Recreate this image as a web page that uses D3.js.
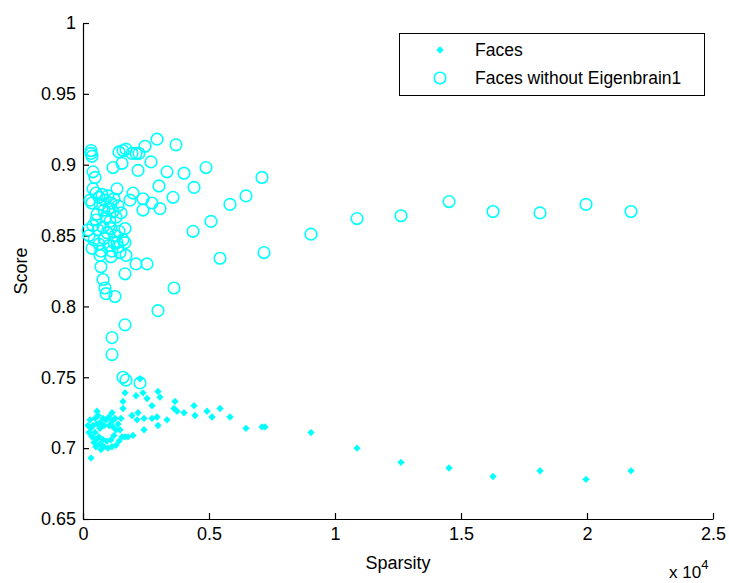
<!DOCTYPE html>
<html>
<head>
<meta charset="utf-8">
<script src="https://cdn.jsdelivr.net/npm/d3@7"></script>
<style>
  html, body { margin: 0; padding: 0; background: #fff; }
  svg { display: block; }
  text { font-family: "Liberation Sans", Arial, sans-serif; fill: #000; }
</style>
</head>
<body>
<svg id="chart" width="729" height="583"></svg>
<script>
// ---- Data (sparsity in raw units; axis shown x 10^4) ----
const seriesNames = ["Faces", "Faces without Eigenbrain1"];

const facesX = [
  317, 556, 1151, 1667, 1587, 2103, 2262, 2381, 2540, 2738, 2976, 3056,
  1587, 1944, 2183, 2143, 2421, 2738, 2937, 2976, 3333, 3651, 3611, 3730,
  4008, 4405, 4444, 4921, 5119, 5437, 5833, 6468, 7103, 7222, 2421, 1984,
  1786, 1667,
  278, 397, 476, 595, 675, 794, 913, 1032, 1151, 1270, 1389, 1468, 1548,
  1429, 1310, 1151, 992, 833, 675, 516, 357, 238, 317, 476, 635, 794, 952,
  1111, 1230, 1310, 1190, 1032, 833, 675, 516, 714, 437, 198, 556, 1508,
  9048, 10873, 12619, 14524, 16270, 18135, 19960, 21746
];
const facesY = [
  0.693, 0.726, 0.725, 0.739, 0.733, 0.737, 0.749, 0.739, 0.735, 0.730, 0.740, 0.736,
  0.728, 0.723, 0.725, 0.720, 0.721, 0.721, 0.722, 0.716, 0.720, 0.733, 0.728, 0.726,
  0.725, 0.730, 0.723, 0.726, 0.722, 0.728, 0.722, 0.714, 0.715, 0.715, 0.713, 0.709,
  0.708, 0.708,
  0.720, 0.716, 0.721, 0.723, 0.718, 0.721, 0.720, 0.722, 0.719, 0.721, 0.717, 0.713,
  0.708, 0.705, 0.702, 0.701, 0.700, 0.701, 0.703, 0.706, 0.708, 0.711, 0.714, 0.711,
  0.708, 0.706, 0.705, 0.706, 0.709, 0.713, 0.715, 0.716, 0.716, 0.714, 0.701, 0.699,
  0.704, 0.716, 0.717, 0.721,
  0.711, 0.700, 0.690, 0.686, 0.680, 0.684, 0.678, 0.684
];

const noEigX = [
  317, 317, 357, 1190, 1429, 1587, 1706, 1944, 2103, 2222, 2460, 2937, 3690,
  1548, 2183, 2698, 3333, 4008, 4881, 7103, 3016, 4405, 6468, 5833, 3571, 3056,
  2738, 2381, 2381, 1984, 1865, 1349, 397, 397, 476, 278, 5079, 4365, 7183,
  5437, 3611, 2976, 1667, 2540, 2103, 1667, 1706, 1111, 675, 714, 794, 873,
  913, 1270, 1667, 1349, 1151, 1151, 1587, 1706, 2262,
  516, 635, 754, 873, 992, 1111, 1230, 675, 833, 1032, 1190, 1389, 556, 913,
  1310, 1508, 397, 595, 794, 952, 1111, 1270, 1429, 1587, 238, 437, 635, 833,
  1032, 1230, 1389, 357, 714, 1151, 1468, 516, 1071, 1667, 198, 357,
  9048, 10873, 12619, 14524, 16270, 18135, 19960, 21746
];
const noEigY = [
  0.910, 0.908, 0.906, 0.898, 0.909, 0.910, 0.911, 0.908, 0.908, 0.908, 0.913, 0.918, 0.914,
  0.901, 0.896, 0.902, 0.895, 0.894, 0.898, 0.891, 0.885, 0.884, 0.878, 0.872, 0.877, 0.869,
  0.873, 0.876, 0.868, 0.880, 0.875, 0.883, 0.883, 0.895, 0.891, 0.875, 0.860, 0.853, 0.838,
  0.834, 0.813, 0.797, 0.787, 0.830, 0.830, 0.823, 0.836, 0.835, 0.836, 0.828, 0.819, 0.813,
  0.809, 0.807, 0.845, 0.845, 0.778, 0.766, 0.750, 0.748, 0.746,
  0.880, 0.877, 0.879, 0.875, 0.878, 0.873, 0.876, 0.872, 0.868, 0.869, 0.867, 0.871, 0.865, 0.863,
  0.863, 0.866, 0.857, 0.854, 0.856, 0.852, 0.855, 0.850, 0.853, 0.847, 0.850, 0.847, 0.844, 0.848,
  0.843, 0.845, 0.842, 0.841, 0.839, 0.839, 0.838, 0.861, 0.860, 0.855, 0.854, 0.873,
  0.851, 0.862, 0.864, 0.874, 0.867, 0.866, 0.872, 0.867
];

const xTicks = [0, 5000, 10000, 15000, 20000, 25000];
const yTicks = [0.65, 0.7, 0.75, 0.8, 0.85, 0.9, 0.95, 1];

// ---- Layout ----
const color = "#00ffff";
const plotL = 83, plotR = 713, plotT = 23, plotB = 519;
const svg = d3.select("#chart");

const x = d3.scaleLinear().domain([0, 25000]).range([plotL, plotR]);
const y = d3.scaleLinear().domain([0.65, 1]).range([plotB, plotT]);

// axes
const xAxis = d3.axisBottom(x).tickValues(xTicks)
  .tickSizeInner(-6).tickSizeOuter(0).tickPadding(8)
  .tickFormat(d => String(+(d / 10000).toFixed(2)));
const yAxis = d3.axisLeft(y).tickValues(yTicks)
  .tickSizeInner(-6).tickSizeOuter(0).tickPadding(7)
  .tickFormat(d => String(+d.toFixed(2)));

const gx = svg.append("g").attr("transform", `translate(0,${plotB})`).call(xAxis);
const gy = svg.append("g").attr("transform", `translate(${plotL},0)`).call(yAxis);
[gx, gy].forEach(g => {
  g.selectAll("path.domain").attr("stroke", "#000").attr("stroke-width", 1.2);
  g.selectAll(".tick line").attr("stroke", "#000").attr("stroke-width", 1.2);
  g.selectAll(".tick text").style("font-family", '"Liberation Sans", Arial, sans-serif')
    .style("font-size", "18px").attr("fill", "#000");
});

// axis labels
svg.append("text").attr("x", 398).attr("y", 569).attr("text-anchor", "middle")
  .style("font-size", "18px").text("Sparsity");
svg.append("text").attr("transform", "translate(27,271) rotate(-90)")
  .attr("text-anchor", "middle").style("font-size", "18px").text("Score");
const mult = svg.append("text").attr("x", 669).attr("y", 578).style("font-size", "17px");
mult.append("tspan").text("x 10");
mult.append("tspan").attr("dy", -9).style("font-size", "13px").text("4");

// marks
const diamond = d3.symbol().type(d3.symbolSquare).size(27);
const facesData = facesX.map((v, i) => [v, facesY[i]]);
const noEigData = noEigX.map((v, i) => [v, noEigY[i]]);

svg.append("g").selectAll("path").data(facesData).join("path")
  .attr("d", diamond)
  .attr("transform", d => `translate(${x(d[0])},${y(d[1])}) rotate(45)`)
  .attr("fill", color);

svg.append("g").selectAll("circle").data(noEigData).join("circle")
  .attr("cx", d => x(d[0])).attr("cy", d => y(d[1])).attr("r", 5.8)
  .attr("fill", "none").attr("stroke", color).attr("stroke-width", 1.6);

// legend
const lg = svg.append("g");
lg.append("rect").attr("x", 399.5).attr("y", 33.5).attr("width", 305).attr("height", 62)
  .attr("fill", "#fff").attr("stroke", "#000").attr("stroke-width", 1);
lg.append("path").attr("d", diamond)
  .attr("transform", "translate(440,50) rotate(45)").attr("fill", color);
lg.append("circle").attr("cx", 440).attr("cy", 78).attr("r", 5.8)
  .attr("fill", "none").attr("stroke", color).attr("stroke-width", 1.6);
lg.append("text").attr("x", 475).attr("y", 56).style("font-size", "17.5px").text(seriesNames[0]);
lg.append("text").attr("x", 475).attr("y", 84).style("font-size", "17.5px").text(seriesNames[1]);
</script>
</body>
</html>
